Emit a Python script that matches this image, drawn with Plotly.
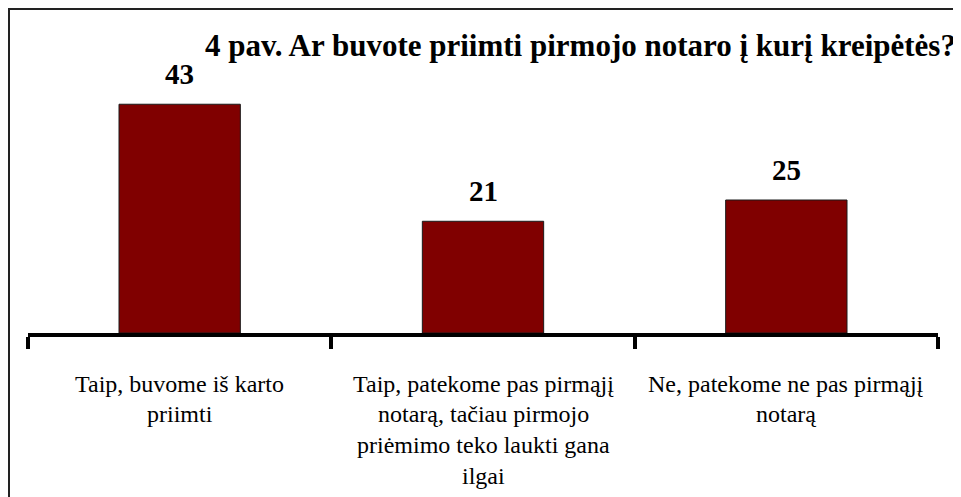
import plotly.graph_objects as go

categories = ["c1", "c2", "c3"]
values = [43, 21, 25]
tick_labels = [
    ["Taip, buvome iš karto", "priimti"],
    ["Taip, patekome pas pirmąjį", "notarą, tačiau pirmojo", "priėmimo teko laukti gana", "ilgai"],
    ["Ne, patekome ne pas pirmąjį", "notarą"],
]
title_text = "4 pav. Ar buvote priimti pirmojo notaro į kurį kreipėtės?"

SERIF = "Liberation Serif"
W, H = 961, 497
OFF = 8  # page offset of the figure
L, R, T, B = 20, 31, 59, 172
plot_h = H - T - B
plot_w = W - L - R

fig = go.Figure()
fig.add_trace(go.Bar(
    x=categories, y=values, width=0.4,
    marker=dict(color="#800000", line=dict(color="#1a1a1a", width=1)),
    hoverinfo="skip",
))

for c, v in zip(categories, values):
    fig.add_annotation(
        x=c, y=v, xref="x", yref="y", text=f"<b>{v}</b>", showarrow=False,
        yanchor="bottom", yshift=12,
        font=dict(family=SERIF, size=29, color="black"),
    )

line_centers = [384 - OFF, 414 - OFF, 445 - OFF, 476 - OFF]
for c, lines in zip(categories, tick_labels):
    for i, ln in enumerate(lines):
        ypx = line_centers[i]
        fig.add_annotation(
            x=c, y=(H - B - ypx) / plot_h, xref="x", yref="paper", text=ln,
            showarrow=False, yanchor="middle", xanchor="center",
            font=dict(family=SERIF, size=24, color="black"),
        )

fig.update_layout(
    width=W, height=H,
    font=dict(family=SERIF, color="black"),
    margin=dict(l=L, r=R, t=T, b=B, pad=0),
    paper_bgcolor="white", plot_bgcolor="white",
    showlegend=False,
    title=dict(
        text=f"<b>{title_text}</b>", x=(205 - OFF) / W, xanchor="left", xref="container",
        y=1 - (45 - OFF) / H, yanchor="middle", yref="container",
        font=dict(family=SERIF, size=31, color="black"),
    ),
    xaxis=dict(
        type="category", showticklabels=False, showgrid=False, zeroline=False,
        showline=True, linecolor="black", linewidth=4,
        ticks="outside", tickson="boundaries", ticklen=12, tickwidth=4, tickcolor="black",
    ),
    yaxis=dict(range=[0, 50], visible=False, showgrid=False, zeroline=False),
    shapes=[dict(
        type="rect", xref="paper", yref="paper",
        x0=(1 - L) / plot_w, x1=(W + 20 - L) / plot_w,
        y0=(H - B - (H + 20)) / plot_h, y1=(H - B - 1) / plot_h,
        line=dict(color="#222222", width=2), fillcolor="rgba(0,0,0,0)", layer="below",
    )],
)

fig.write_html("out.html")
